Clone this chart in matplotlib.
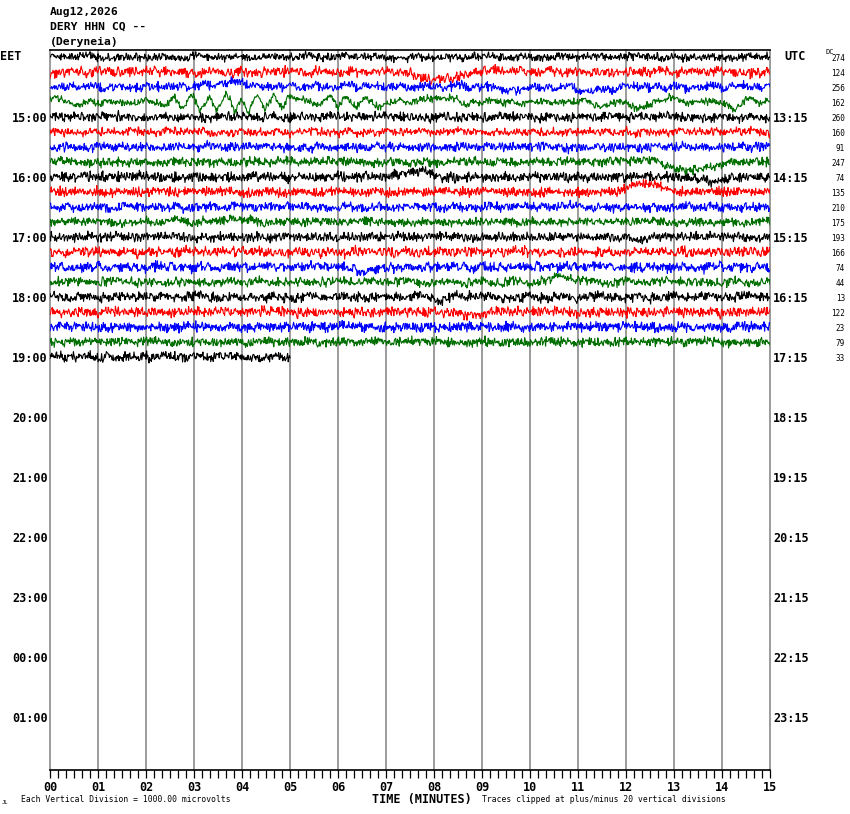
import numpy as np
import matplotlib
matplotlib.use("Agg")
import matplotlib.pyplot as plt

W, H = 850, 814
MONO = "DejaVu Sans Mono"

# header / labels
title_lines = ["Aug12,2026", "DERY HHN CQ --", "(Deryneia)"]
left_hours = ["15:00", "16:00", "17:00", "18:00", "19:00", "20:00",
              "21:00", "22:00", "23:00", "00:00", "01:00"]
right_hours = ["13:15", "14:15", "15:15", "16:15", "17:15", "18:15",
               "19:15", "20:15", "21:15", "22:15", "23:15"]
dc_values = [274, 124, 256, 162, 260, 160, 91, 247, 74, 135, 210,
             175, 193, 166, 74, 44, 13, 122, 23, 79, 33]
trace_colors = ["black", "red", "blue", "#006e00"]
trace_end = [15] * 20 + [5.0]
noise_amp = [5, 6, 5.5, 4.5, 5.5, 5, 5.5, 5.5, 6, 5.5, 5.5,
             5, 5.5, 6, 6, 5.5, 6, 6, 6, 5.5, 6]
x_labels = ["%02d" % m for m in range(16)]

# slow features (minute, offset in pixels, up = +)
t_1415 = [7.2, 7.6, 7.8, 7.95, 8.15, 8.4, 8.7, 9.0, 10.0, 10.5]
v_1415 = [0, -3, -7, -10, -8, -5, -2, 2, 1, 0]
t_1430 = [2.9, 3.3, 3.9, 4.4, 9.2, 9.5, 9.7, 10.0, 10.8, 11.2, 11.5, 11.9]
v_1430 = [0, 2, 4, 1, 0, -4, -5, 0, 0, -4, -3, 0]
t_1445 = [0.0, 0.15, 0.5, 0.8, 2.2, 2.4, 2.57, 2.74, 2.95, 3.13, 3.33, 3.47,
          3.68, 3.85, 3.99, 4.13, 4.31, 4.48, 4.65, 4.83, 4.97, 5.21, 5.56,
          5.87, 6.0, 6.15, 6.39, 6.6, 6.83, 7.1, 8.4, 8.75, 9.17, 9.44, 11.2,
          11.45, 11.7, 12.0, 12.3, 12.6, 12.9, 13.3, 14.0, 14.23, 14.5, 14.8]
v_1445 = [3, 6, -3, 0, 0, -5, 6, -7, 8, -9, 8, -11, 10, -11, 5, -12, 6, -7,
          7, -6, 4, 3, -4, 6, -4, 6, -4, 3, -4, 0, 4, -3, 3, -1, 0, -6, 0,
          0, -7, 0, 5, 0, 0, -9, 4, 0]
t_1545 = [11.8, 12.2, 12.6, 12.8, 13.0, 13.2, 13.5, 13.8, 14.1, 14.5]
v_1545 = [0, 2, 3, -2, -7, -8, -7, -4, -1, 0]
t_1600 = [7.0, 7.3, 7.6, 7.8, 8.0, 8.2, 13.0, 13.5, 13.8, 14.0, 14.2]
v_1600 = [0, 3, 4, 6, 2, 0, 0, -3, -5, -2, 0]
t_1615 = [11.8, 12.0, 12.25, 12.4, 12.6, 12.9, 13.05]
v_1615 = [0, 3, 8, 10, 7, 3, 0]
t_1645 = [2.3, 2.6, 2.9, 3.5, 3.8, 4.1, 4.4]
v_1645 = [0, 3, 0, 0, 4, 2, 0]
t_1700 = [12.0, 12.3, 12.5]
v_1700 = [0, -4, 0]
t_1730 = [6.2, 6.5, 6.8, 7.0]
v_1730 = [0, -4, -3, 0]
t_1745 = [9.7, 10.0, 10.3, 10.7, 11.0, 11.3, 11.7, 12.0]
v_1745 = [0, -2, 2, 6, 3, 0, -1, 0]
t_1800 = [7.9, 8.15, 8.4]
v_1800 = [0, -4, 0]
t_1815 = [8.4, 8.7, 9.0, 9.2]
v_1815 = [0, -3, -3, 0]

spike_trace = [1, 17, 12]
spike_min = [4.9, 7.5, 5.9]
spike_px = [8, 8, -6]

# hand-entered jitter tables for the background noise texture
jitter_a = [0.2, -0.5, 0.7, -0.1, -0.8, 0.4, 0.1, -0.3, 0.9, -0.6, 0.0, 0.5,
            -0.2, -0.9, 0.3, 0.6, -0.4, 0.1, -0.7, 0.8, -0.1, 0.2, -0.5, 0.4,
            -1.0, 0.6, 0.3, -0.2, 0.7, -0.6, 0.1, -0.3, 0.5, -0.8, 0.2, 0.9,
            -0.4, 0.0, -0.6, 0.4, 0.1, -0.2, 0.8, -0.5, -0.3, 0.6, -0.9, 0.3,
            0.2, -0.1, 0.5, -0.7, 0.4, -0.2, 1.0, -0.4, 0.0, -0.6, 0.3, 0.7,
            -0.3]
jitter_b = [-0.3, 0.6, -0.1, 0.4, -0.7, 0.2, 0.9, -0.5, 0.1, -0.2, 0.5, -0.8,
            0.3, 0.0, -0.4, 0.7, -0.6, 0.2, 0.4, -0.9, 0.1, 0.6, -0.3, -0.1,
            0.8, -0.5, 0.3, -0.7, 0.0, 0.5, -0.2, 0.9, -0.4, 0.2, -0.6, 0.1,
            0.7, -0.8, 0.3, -0.1, 0.4, -0.5, 0.6, -0.3, 0.2, -0.9, 0.5]
wander = [0.3, -0.6, 0.8, 0.1, -0.4, -0.9, 0.5, 0.2, -0.2, 0.7, -0.5, 0.0,
          0.6, -0.8, 0.4, -0.1, 0.9, -0.3, -0.7, 0.2, 0.5, -0.4, 0.1, 0.8,
          -0.6, 0.3, -0.2, 0.6, -0.9]

slow = {1: (t_1415, v_1415), 2: (t_1430, v_1430), 3: (t_1445, v_1445),
        7: (t_1545, v_1545), 8: (t_1600, v_1600), 9: (t_1615, v_1615),
        11: (t_1645, v_1645), 12: (t_1700, v_1700), 14: (t_1730, v_1730),
        15: (t_1745, v_1745), 16: (t_1800, v_1800), 17: (t_1815, v_1815)}

ROW_PX = 15.0


def trace_values(k):
    """Offsets in pixels for trace k."""
    n = int(trace_end[k] * 80) + 1
    t = np.linspace(0, trace_end[k], n)
    i = np.arange(n)
    ja = np.array(jitter_a)[(i * (7 + 2 * k) + 13 * k) % len(jitter_a)]
    jb = np.array(jitter_b)[(i * (5 + 2 * k) + 7 * k) % len(jitter_b)]
    grid = np.arange(0, 15.2, 0.2)
    wv = np.array(wander)[(np.arange(len(grid)) * 3 + k * 5) % len(wander)]
    y = noise_amp[k] * (0.65 * ja + 0.45 * jb) + 1.5 * np.interp(t, grid, wv)
    if k in slow:
        kt, kv = slow[k]
        y = y + np.interp(t, kt, kv, left=0, right=0)
    for tr, m, p in zip(spike_trace, spike_min, spike_px):
        if tr == k:
            y[np.argmin(np.abs(t - m))] += p
    return t, y


fig = plt.figure(figsize=(W / 100, H / 100), dpi=100)
ax = fig.add_axes([50 / W, (H - 770) / H, 720 / W, 720 / H])
top = 7 / ROW_PX
ax.set_xlim(0, 15)
ax.set_ylim(top - 48, top)

for m in range(16):
    ax.axvline(m, color="#808080", lw=1.1, zorder=1, clip_on=False)

for k in range(len(dc_values)):
    t, y = trace_values(k)
    ax.plot(t, -k + y / ROW_PX, color=trace_colors[k % 4], lw=0.8, zorder=2)

for s in ("left", "right"):
    ax.spines[s].set_visible(False)
for s in ("top", "bottom"):
    ax.spines[s].set_color("black")
    ax.spines[s].set_linewidth(1.2)
ax.set_yticks([])
ax.set_xticks(range(16))
ax.set_xticklabels(x_labels, fontfamily=MONO, fontweight="bold", fontsize=8.5)
ax.set_xticks(np.arange(0, 15.01, 1 / 6), minor=True)
ax.tick_params(axis="x", which="both", direction="out", length=5.5,
               width=0.9, color="black", pad=2.5)

ytr = ax.get_yaxis_transform()
for h, lab in enumerate(left_hours):
    ax.text(-0.003, -4 * (h + 1) - 0.07, lab, transform=ytr, ha="right",
            va="center", fontfamily=MONO, fontweight="bold", fontsize=8.5)
for h, lab in enumerate(right_hours):
    ax.text(1.004, -4 * (h + 1) - 0.07, lab, transform=ytr, ha="left",
            va="center", fontfamily=MONO, fontweight="bold", fontsize=8.5)
ax.text(-0.069, 0, "EET", transform=ytr, ha="left", va="center",
        fontfamily=MONO, fontweight="bold", fontsize=8.5)
ax.text(1.02, 0, "UTC", transform=ytr, ha="left", va="center",
        fontfamily=MONO, fontweight="bold", fontsize=8.5)
for k, v in enumerate(dc_values):
    ax.text((845 - 50) / 720, -k - 0.1, str(v), transform=ytr, ha="right",
            va="center", fontfamily=MONO, fontsize=5.5)
ax.text((826 - 50) / 720, 0.35, "DC", transform=ytr, ha="left", va="center",
        fontfamily=MONO, fontsize=5)


def ftext(x, y, s, **kw):
    fig.text(x / W, 1 - y / H, s, fontfamily=MONO, **kw)


for j, line in enumerate(title_lines):
    ftext(50, 12 + 15 * j, line, fontsize=8.2, fontweight="bold",
          va="center", ha="left")
ftext(422, 799, "TIME (MINUTES)", fontsize=8.5, fontweight="bold",
      ha="center", va="center")
ftext(21, 800, "Each Vertical Division = 1000.00 microvolts", fontsize=5.8,
      ha="left", va="center")
ftext(482, 800, "Traces clipped at plus/minus 20 vertical divisions",
      fontsize=5.8, ha="left", va="center")
ftext(2, 802, "JL", fontsize=4, ha="left", va="center")

fig.savefig("out.png", dpi=100)
